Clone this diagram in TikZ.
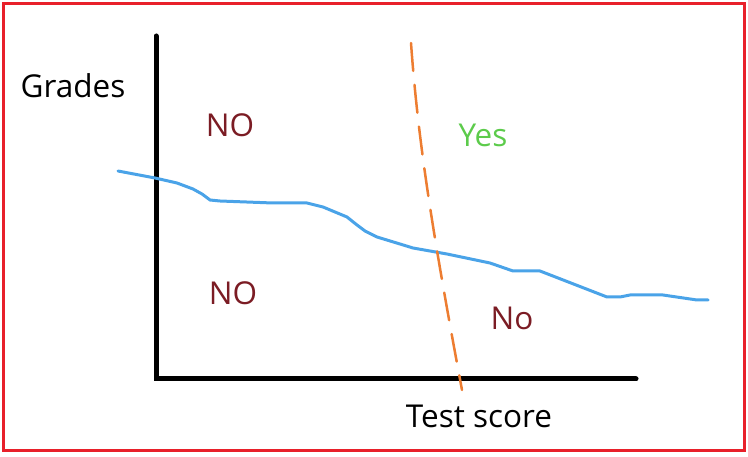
\documentclass[tikz,border=0pt]{standalone}
\usepackage{fontspec}
\setmainfont{Open Sans}
\definecolor{frame}{HTML}{E8202A}
\definecolor{curve}{HTML}{4AA3E8}
\definecolor{split}{HTML}{ED7D31}
\definecolor{nored}{HTML}{7B1C24}
\definecolor{yesgreen}{HTML}{5CCB4B}
\begin{document}
\begin{tikzpicture}[x=1pt,y=-1pt,
  lbl/.style={font=\fontsize{31.5}{36}\selectfont, inner sep=0pt},
  axis/.style={line width=5pt, line cap=round},
  region/.style={lbl, text=nored}]
\useasboundingbox (0,0) rectangle (748,457);
\draw[frame, line width=3pt] (3,4) rectangle (744,450);
% axes
\coordinate (top) at (156,36);
\coordinate (origin) at (156,379);
\coordinate (right) at (636,379);
\draw[axis] (top) -- (origin) -- (right);
% blue curve
\draw[curve, line width=3pt, line cap=round, line join=round]
 (118,171) -- (155,178) -- (177,183) -- (193,189) -- (202,194) -- (210,200) -- (220,201) -- (273,203) -- (307,203) -- (323,207) -- (347,217) -- (357,225) -- (365,231) -- (377,237) -- (400,244) -- (413,248) -- (447,254) -- (490,263) -- (513,271) -- (540,271) -- (607,297) -- (620,297) -- (630,295) -- (663,295) -- (697,300) -- (708,300);
% orange dashed
\coordinate (s1) at (411,43);
\coordinate (s2) at (462,390);
\draw[split, line width=2.5pt, dash pattern=on 28pt off 14pt, line cap=round]
 (s1) .. controls (418,140) and (432,230) .. (s2);
% labels
\node[lbl] (grades) at (73,86) {Grades};
\node[lbl] (test) at (479,416) {Test score};
\node[region] (no1) at (230,125) {NO};
\node[region] (no2) at (233,293) {NO};
\node[region] (no3) at (512,318) {No};
\node[lbl, text=yesgreen] (yes) at (483,135) {Yes};
\end{tikzpicture}
\end{document}
